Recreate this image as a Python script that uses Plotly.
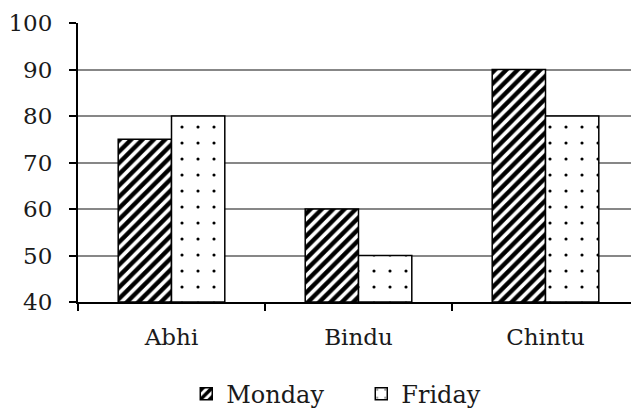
import plotly.graph_objects as go

categories = ["Abhi", "Bindu", "Chintu"]
monday = [75, 60, 90]
friday = [80, 50, 80]
y_ticks = [40, 50, 60, 70, 80, 90, 100]

FONT = "DejaVu Serif"

fig = go.Figure()
fig.add_bar(
    name="Monday", x=categories, y=[v - 40 for v in monday], base=40,
    marker=dict(color="white", line=dict(color="black", width=1.5),
                pattern=dict(shape="/", fgcolor="black", bgcolor="white",
                             fgopacity=1, size=8, solidity=0.55)),
)
fig.add_bar(
    name="Friday", x=categories, y=[v - 40 for v in friday], base=40,
    marker=dict(color="white", line=dict(color="black", width=1.5),
                pattern=dict(shape=".", fgcolor="black", bgcolor="white",
                             fgopacity=1, size=16, solidity=0.03)),
)

# page body has an 8px default margin, so the figure is 8px smaller than the window
fig.update_layout(
    width=631, height=403,
    margin=dict(l=70, r=0, t=15, b=109, autoexpand=False),
    paper_bgcolor="white", plot_bgcolor="white",
    barmode="group", bargap=0.43, bargroupgap=0,
    font=dict(family=FONT, color="black", size=23),
    showlegend=True,
    legend=dict(orientation="h", x=0.193, xanchor="left", y=-0.33, yanchor="middle",
                font=dict(size=24, family=FONT, color="#1a1a1a"), entrywidth=130,
                traceorder="normal"),
    xaxis=dict(showline=True, linecolor="black", linewidth=2, automargin=False,
               ticks="outside", tickson="boundaries", ticklen=7, tickwidth=2,
               tickcolor="black", showgrid=False, tickfont=dict(size=23, color="#1a1a1a"),
               ticklabelstandoff=13),
    yaxis=dict(range=[40, 100], tickvals=y_ticks, showline=True, linecolor="black",
               linewidth=2, ticks="outside", ticklen=7, tickwidth=2, tickcolor="black",
               showgrid=True, gridcolor="#878787", gridwidth=2, zeroline=False,
               automargin=False, tickfont=dict(size=23, color="#1a1a1a"),
               ticklabelstandoff=12),
)

fig.write_html("out.html")
